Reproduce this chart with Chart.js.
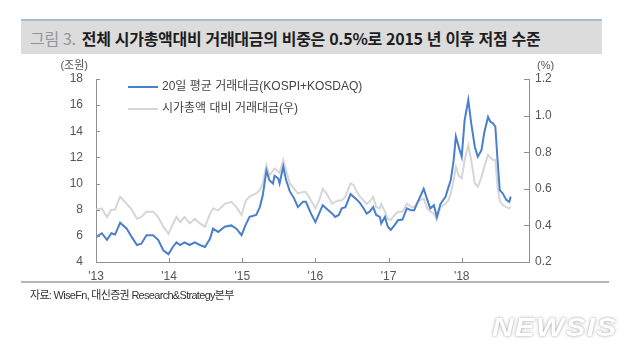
<!DOCTYPE html>
<html lang="ko">
<head>
<meta charset="utf-8">
<script src="https://cdn.jsdelivr.net/npm/chart.js@4.4.1/dist/chart.umd.min.js"></script>
<style>
    html, body { margin: 0; padding: 0; background: #fff; }
    body { width: 640px; height: 358px; position: relative; overflow: hidden; }
    #chart { position: absolute; left: 0; top: 0; }
    .title-box {
        position: absolute; left: 21px; top: 19px; width: 581px; height: 35px;
        background: #dcdcdc; border-top: 2px solid #a9bccf;
        font-family: "Noto Sans CJK KR", sans-serif; font-size: 16px;
        line-height: 35px; letter-spacing: -0.3px; color: #1e1e1e; font-weight: bold;
        padding-left: 9px; box-sizing: border-box; white-space: nowrap;
    }
    .title-box .num { color: #959595; font-weight: normal; margin-right: 6px; }
    .source {
        position: absolute; left: 21px; top: 281px; width: 588px;
        border-top: 2px solid #b5b5b5; padding: 3px 0 0 9px; box-sizing: border-box;
        font-family: "Liberation Sans", "Noto Sans CJK KR", sans-serif; font-size: 11px;
        letter-spacing: -0.7px; color: #333; white-space: nowrap;
    }
    .mark {
        position: absolute; left: 492px; top: 313px;
        font-family: "Liberation Sans", sans-serif; font-size: 25px; font-weight: bold; font-style: italic;
        color: #fff; letter-spacing: 1px; transform: scaleX(1.2); transform-origin: left top;
        text-shadow: 0 0 3px rgba(0,0,0,0.35), 0 0 1px rgba(0,0,0,0.2);
    }
</style>
</head>
<body>
<canvas id="chart" width="640" height="358"></canvas>
<div class="title-box"><span class="num">그림 3.</span>전체 시가총액대비 거래대금의 비중은 0.5%로 2015 년 이후 저점 수준</div>
<div class="source">자료: WiseFn, 대신증권 Research&amp;Strategy본부</div>
<div class="mark">NEWSIS</div>
<script>
        // Data (decimal years)
        const dates = [
            2013.00, 2013.08, 2013.15, 2013.21, 2013.26, 2013.33, 2013.42, 2013.49, 2013.56, 2013.62,
            2013.69, 2013.78, 2013.85, 2013.92, 2013.99, 2014.05, 2014.10, 2014.15, 2014.21, 2014.28,
            2014.35, 2014.42, 2014.49, 2014.56, 2014.60, 2014.67, 2014.76, 2014.85, 2014.92, 2014.99,
            2015.05, 2015.10, 2015.19, 2015.24, 2015.28, 2015.33, 2015.37, 2015.42, 2015.44, 2015.49,
            2015.51, 2015.56, 2015.60, 2015.65, 2015.71, 2015.76, 2015.83, 2015.87, 2015.94, 2016.00,
            2016.05, 2016.10, 2016.15,
            2016.23, 2016.27, 2016.32, 2016.36, 2016.41, 2016.48, 2016.52, 2016.57, 2016.61, 2016.66,
            2016.70, 2016.74, 2016.79, 2016.83, 2016.88, 2016.90, 2016.95, 2016.99, 2017.03, 2017.08,
            2017.13, 2017.19, 2017.25, 2017.31, 2017.35, 2017.40, 2017.44, 2017.48, 2017.53, 2017.57,
            2017.62, 2017.66, 2017.71, 2017.78, 2017.82, 2017.85, 2017.89, 2017.92, 2017.96, 2018.00,
            2018.04, 2018.09, 2018.13, 2018.18, 2018.22, 2018.27, 2018.31, 2018.36, 2018.39, 2018.43,
            2018.46, 2018.49, 2018.52, 2018.56, 2018.61, 2018.65, 2018.67
        ];

        // 20일 평균 거래대금 (조원, left axis)
        const tradingValue = [
            5.9, 6.2, 5.7, 6.2, 6.1, 7.0, 6.55, 5.9, 5.3, 5.4,
            6.05, 6.05, 5.7, 4.9, 4.6, 5.15, 5.5, 5.3, 5.5, 5.3,
            5.5, 5.3, 5.15, 5.8, 6.55, 6.3, 6.7, 6.8, 6.55, 6.05,
            6.9, 7.45, 7.6, 8.2, 9.1, 11.0, 10.25, 10.0, 10.6, 10.4,
            10.0, 11.3, 10.25, 9.4, 8.85, 8.2, 8.6, 8.6, 7.7, 7.05,
            7.7, 8.35, 8.1,
            7.7, 7.45, 7.6, 8.1, 8.2, 9.2, 9.0, 8.75, 8.5, 8.1,
            7.7, 7.85, 8.2, 7.6, 7.45, 6.95, 7.45, 6.7, 6.45, 6.8,
            7.2, 7.25, 8.1, 7.95, 7.95, 8.6, 9.1, 9.6, 8.75, 8.1,
            8.35, 7.45, 8.45, 9.0, 9.75, 10.25, 11.8, 13.6, 12.8, 12.05,
            14.85, 16.4, 14.6, 12.8, 12.05, 12.55, 13.95, 15.1, 14.75, 14.6,
            14.35, 11.8, 9.5, 9.25, 8.75, 8.6, 9.0
        ];

        // 시가총액 대비 거래대금 (%, right axis)
        const turnoverRatio = [
            0.486, 0.493, 0.446, 0.486, 0.486, 0.557, 0.518, 0.486, 0.436, 0.446,
            0.475, 0.475, 0.446, 0.393, 0.354, 0.407, 0.446, 0.418, 0.446, 0.411,
            0.436, 0.411, 0.393, 0.464, 0.493, 0.482, 0.518, 0.529, 0.500, 0.457,
            0.536, 0.557, 0.575, 0.593, 0.629, 0.729, 0.671, 0.700, 0.711, 0.693,
            0.686, 0.757, 0.700, 0.629, 0.600, 0.575, 0.582, 0.582, 0.536, 0.493,
            0.536, 0.600, 0.575,
            0.518, 0.529, 0.536, 0.536, 0.557, 0.629, 0.621, 0.582, 0.557, 0.536,
            0.518, 0.529, 0.557, 0.500, 0.493, 0.518, 0.475, 0.436, 0.429, 0.457,
            0.475, 0.475, 0.518, 0.500, 0.500, 0.529, 0.539, 0.546, 0.493, 0.475,
            0.464, 0.429, 0.500, 0.518, 0.539, 0.575, 0.646, 0.721, 0.671, 0.657,
            0.757, 0.839, 0.757, 0.629, 0.611, 0.664, 0.721, 0.786, 0.771, 0.757,
            0.757, 0.611, 0.536, 0.511, 0.500, 0.493, 0.500
        ];

        const seriesNames = ['20일 평균 거래대금(KOSPI+KOSDAQ)', '시가총액 대비 거래대금(우)'];
        const seriesColors = ['#4a7fcc', '#d6d6d6'];
        const leftTicks = [4, 6, 8, 10, 12, 14, 16, 18];
        const rightTicks = [0.2, 0.4, 0.6, 0.8, 1.0, 1.2];
        const yearTicks = [2013, 2014, 2015, 2016, 2017, 2018];

        const FONT = '"Liberation Sans", "Noto Sans CJK KR", sans-serif';
        const AXIS_COLOR = '#8f8f8f';
        const TEXT_COLOR = '#555';

        // Inward tick marks, legend and unit labels
        const decorPlugin = {
            id: 'decor',
            afterDraw(chart) {
                const { ctx, chartArea: area, scales } = chart;
                ctx.save();
                ctx.strokeStyle = AXIS_COLOR;
                ctx.lineWidth = 1;
                ctx.beginPath();
                leftTicks.forEach(v => {
                    const y = Math.round(scales.y.getPixelForValue(v)) + 0.5;
                    ctx.moveTo(area.left, y); ctx.lineTo(area.left + 4, y);
                });
                rightTicks.forEach(v => {
                    const y = Math.round(scales.y1.getPixelForValue(v)) + 0.5;
                    ctx.moveTo(area.right, y); ctx.lineTo(area.right - 5, y);
                });
                yearTicks.forEach(v => {
                    const x = Math.round(scales.x.getPixelForValue(v)) + 0.5;
                    ctx.moveTo(x, area.bottom); ctx.lineTo(x, area.bottom - 4);
                });
                ctx.stroke();

                // Legend
                ctx.font = '12px ' + FONT;
                ctx.textBaseline = 'middle';
                ctx.textAlign = 'left';
                seriesNames.forEach((name, i) => {
                    const y = area.top + 8 + i * 22;
                    ctx.strokeStyle = seriesColors[i];
                    ctx.lineWidth = 2;
                    ctx.beginPath();
                    ctx.moveTo(area.left + 32, y); ctx.lineTo(area.left + 62, y);
                    ctx.stroke();
                    ctx.fillStyle = '#444';
                    ctx.fillText(name, area.left + 66, y);
                });

                // Units
                ctx.font = '11px ' + FONT;
                ctx.fillStyle = TEXT_COLOR;
                ctx.textAlign = 'right';
                ctx.fillText('(조원)', area.left - 8, area.top - 13);
                ctx.textAlign = 'left';
                ctx.fillText('(%)', area.right + 8, area.top - 13);
                ctx.restore();
            }
        };

        Chart.defaults.font.family = FONT;
        Chart.defaults.font.size = 12;
        Chart.defaults.color = TEXT_COLOR;

        const ctx = document.getElementById('chart').getContext('2d');
        new Chart(ctx, {
            type: 'line',
            data: {
                datasets: [{
                    label: seriesNames[0],
                    data: dates.map((d, i) => ({ x: d, y: tradingValue[i] })),
                    borderColor: seriesColors[0],
                    borderWidth: 2,
                    pointRadius: 0,
                    tension: 0,
                    yAxisID: 'y',
                    order: 0
                }, {
                    label: seriesNames[1],
                    data: dates.map((d, i) => ({ x: d, y: turnoverRatio[i] })),
                    borderColor: seriesColors[1],
                    borderWidth: 2,
                    pointRadius: 0,
                    tension: 0,
                    yAxisID: 'y1',
                    order: 1
                }]
            },
            options: {
                responsive: false,
                animation: false,
                layout: { padding: { top: 79, left: 0, right: 0, bottom: 0 } },
                plugins: {
                    legend: { display: false },
                    tooltip: { enabled: false }
                },
                scales: {
                    x: {
                        type: 'linear',
                        min: 2013,
                        max: 2018.92,
                        grid: { display: false, drawTicks: false },
                        border: { display: true, color: AXIS_COLOR, width: 1 },
                        afterBuildTicks: scale => { scale.ticks = yearTicks.map(v => ({ value: v })); },
                        afterFit: scale => { scale.height = 96; },
                        ticks: {
                            padding: 7,
                            maxRotation: 0,
                            callback: v => "'" + String(v).slice(2)
                        }
                    },
                    y: {
                        position: 'left',
                        min: 4,
                        max: 18,
                        grid: { display: false, drawTicks: false },
                        border: { display: true, color: AXIS_COLOR, width: 1 },
                        afterBuildTicks: scale => { scale.ticks = leftTicks.map(v => ({ value: v })); },
                        afterFit: scale => { scale.width = 96; },
                        ticks: { padding: 13 }
                    },
                    y1: {
                        position: 'right',
                        min: 0.2,
                        max: 1.2,
                        grid: { display: false, drawTicks: false },
                        border: { display: true, color: AXIS_COLOR, width: 1 },
                        afterBuildTicks: scale => { scale.ticks = rightTicks.map(v => ({ value: v })); },
                        afterFit: scale => { scale.width = 111; },
                        ticks: { padding: 6, callback: v => v.toFixed(1) }
                    }
                }
            },
            plugins: [decorPlugin]
        });
</script>
</body>
</html>
